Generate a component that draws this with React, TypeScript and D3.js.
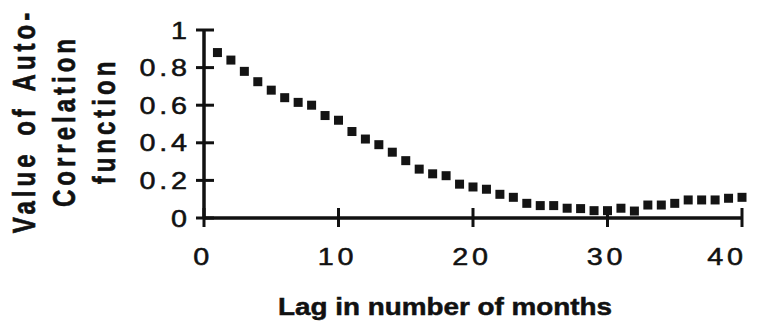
import * as d3 from 'd3'

// lag (months) and autocorrelation value
const lags = [
  1, 2, 3, 4, 5, 6, 7, 8, 9, 10,
  11, 12, 13, 14, 15, 16, 17, 18, 19, 20,
  21, 22, 23, 24, 25, 26, 27, 28, 29, 30,
  31, 32, 33, 34, 35, 36, 37, 38, 39, 40,
]
const acf = [
  0.88, 0.84, 0.78, 0.725, 0.68, 0.64, 0.615, 0.6, 0.545, 0.52,
  0.46, 0.42, 0.39, 0.35, 0.305, 0.26, 0.235, 0.225, 0.18, 0.165,
  0.153, 0.126, 0.11, 0.078, 0.066, 0.066, 0.052, 0.05, 0.039, 0.039,
  0.052, 0.037, 0.069, 0.069, 0.078, 0.096, 0.096, 0.096, 0.105, 0.11,
]
const xTicks = [0, 10, 20, 30, 40]
const yTicks = [0, 0.2, 0.4, 0.6, 0.8, 1]
const yTitleLines = ['Value of Auto-', 'Correlation', 'function']
const xTitle = 'Lag in number of months'

export default function App() {
  const width = 761
  const height = 322

  const x = d3.scaleLinear().domain([0, 40]).range([204, 742])
  const y = d3.scaleLinear().domain([0, 1]).range([218, 30])

  const font = 'Helvetica, Arial, "Liberation Sans", sans-serif'
  const sq = 9
  const ls = 3
  const ink = '#111'

  return (
    <svg
      width={width}
      height={height}
      style={{ position: 'absolute', left: 0, top: 0, background: '#fff' }}
      fontFamily={font}
    >
      {/* y title, three rotated lines */}
      {yTitleLines.map((t, i) => (
        <text
          key={t}
          transform={`translate(${35 + i * 40},121) scale(1.3,1) rotate(-90)`}
          textAnchor="middle"
          fontSize={24}
          fontWeight="bold"
          letterSpacing={4}
          wordSpacing={4}
          fill={ink}
          stroke={ink}
          strokeWidth={0.5}
        >
          {t}
        </text>
      ))}

      {/* axes */}
      <line x1={x(0)} x2={x(0)} y1={y(1)} y2={y(0)} stroke={ink} strokeWidth={3.5} />
      <line x1={x(0)} x2={x(40)} y1={y(0)} y2={y(0)} stroke={ink} strokeWidth={3.5} />

      {yTicks.map(t => (
        <g key={'y' + t}>
          <line x1={x(0) - 8} x2={x(0) + 10} y1={y(t)} y2={y(t)} stroke={ink} strokeWidth={3} />
          <text
            transform={`translate(${187 + ls * 1.25},${y(t) + 8.5}) scale(1.25,1)`}
            textAnchor="end"
            fontSize={23}
            letterSpacing={ls}
            fill={ink}
            stroke={ink}
            strokeWidth={0.5}
          >
            {d3.format('~g')(t)}
          </text>
        </g>
      ))}

      {xTicks.map(t => (
        <g key={'x' + t}>
          <line x1={x(t)} x2={x(t)} y1={y(0) - 10} y2={y(0) + 9} stroke={ink} strokeWidth={3} />
          <text
            transform={`translate(${Math.min(x(t) - 1, width - 34)},265) scale(1.25,1)`}
            textAnchor="middle"
            fontSize={23}
            letterSpacing={ls}
            fill={ink}
            stroke={ink}
            strokeWidth={0.5}
          >
            {t}
          </text>
        </g>
      ))}

      {/* data squares */}
      {lags.map((l, i) => (
        <rect
          key={l}
          x={x(l) - sq / 2}
          y={y(acf[i]) - sq / 2}
          width={sq}
          height={sq}
          fill="#141414"
        />
      ))}

      <text
        transform="translate(445,315) scale(1.16,1)"
        textAnchor="middle"
        fontSize={24}
        fontWeight="bold"
        fill={ink}
        stroke={ink}
        strokeWidth={0.5}
      >
        {xTitle}
      </text>
    </svg>
  )
}
